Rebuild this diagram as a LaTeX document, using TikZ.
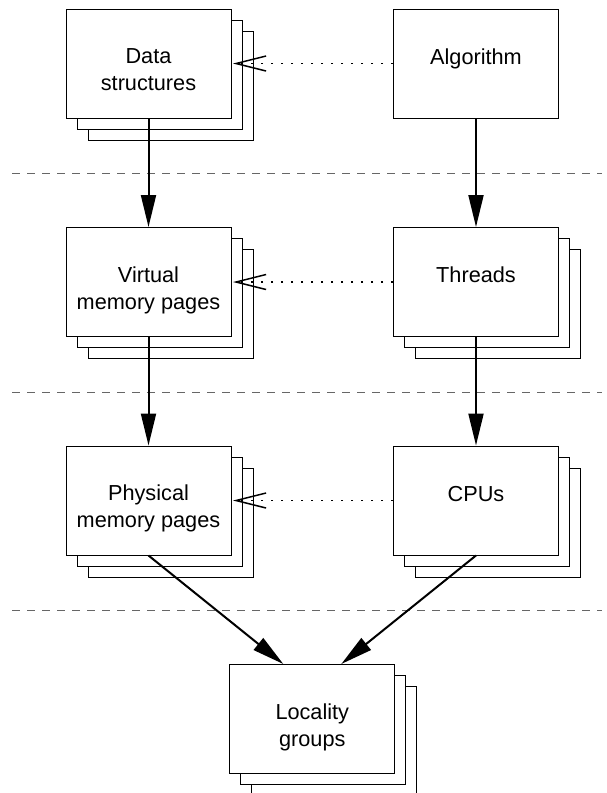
\documentclass[tikz,border=0pt]{standalone}
\usepackage{fontspec}
\setmainfont{Liberation Sans}
\usetikzlibrary{arrows.meta}
\begin{document}
\begin{tikzpicture}[x=1pt,y=-1pt,
  box/.style={draw=black, fill=white, line width=1pt, minimum width=165pt, minimum height=109pt,
    inner sep=0pt},
  txt/.style={anchor=base, inner sep=0pt, align=center, font=\fontsize{21.7}{27}\selectfont},
  arr/.style={line width=2pt, -{Triangle[length=32pt,width=15pt]}},
  dotarr/.style={line width=1.6pt, dash pattern=on 1.6pt off 8.4pt, -{Straight Barb[length=30pt,width=15pt,line width=1.5pt]}},
  sep/.style={draw=black!60, line width=1pt, dash pattern=on 8pt off 7pt}]
\useasboundingbox (0,0) rectangle (606,793);
\begin{scope}
\clip (0,0) rectangle (606,793);
% separators
\draw[sep] (12,173) -- (602,173);
\draw[sep] (12,392) -- (602,392);
\draw[sep] (12,610) -- (602,610);
% stacked boxes
\node[box] (ds-b2) at (170.5,85.5) {};
\node[box] (ds-b1) at (159.5,74.5) {};
\node[box] (ds) at (148.5,63.5) {};
\node[box] (alg) at (476,63.5) {};
\node[box] (vm-b2) at (170.5,304) {};
\node[box] (vm-b1) at (159.5,293) {};
\node[box] (vm) at (148.5,282) {};
\node[box] (th-b2) at (498,304) {};
\node[box] (th-b1) at (487,293) {};
\node[box] (th) at (476,282) {};
\node[box] (pm-b2) at (170.5,522.5) {};
\node[box] (pm-b1) at (159.5,511.5) {};
\node[box] (pm) at (148.5,500.5) {};
\node[box] (cpu-b2) at (498,522.5) {};
\node[box] (cpu-b1) at (487,511.5) {};
\node[box] (cpu) at (476,500.5) {};
\node[box] (lg-b2) at (334.3,741) {};
\node[box] (lg-b1) at (323.3,730) {};
\node[box] (lg) at (312.3,719) {};
\end{scope}
% texts
\node[txt] (ds-t) at ([yshift=-82pt]ds.north) {Data\\structures};
\node[txt] (alg-t) at ([yshift=-55.5pt]alg.north) {Algorithm};
\node[txt] (vm-t) at ([yshift=-82pt]vm.north) {Virtual\\memory pages};
\node[txt] (th-t) at ([yshift=-55.5pt]th.north) {Threads};
\node[txt] (pm-t) at ([yshift=-82pt]pm.north) {Physical\\memory pages};
\node[txt] (cpu-t) at ([yshift=-55.5pt]cpu.north) {CPUs};
\node[txt] (lg-t) at ([yshift=-82pt]lg.north) {Locality\\groups};
% connectors
\draw[arr] (ds.south) -- (vm.north);
\draw[arr] (vm.south) -- (pm.north);
\draw[arr] (alg.south) -- (th.north);
\draw[arr] (th.south) -- (cpu.north);
\draw[arr] (pm.south) -- ([xshift=-29pt]lg.north);
\draw[arr] (cpu.south) -- ([xshift=29pt]lg.north);
\draw[dotarr] (alg.west) -- ([xshift=1.5pt]ds.east);
\draw[dotarr] (th.west) -- ([xshift=1.5pt]vm.east);
\draw[dotarr] (cpu.west) -- ([xshift=1.5pt]pm.east);
\end{tikzpicture}
\end{document}
